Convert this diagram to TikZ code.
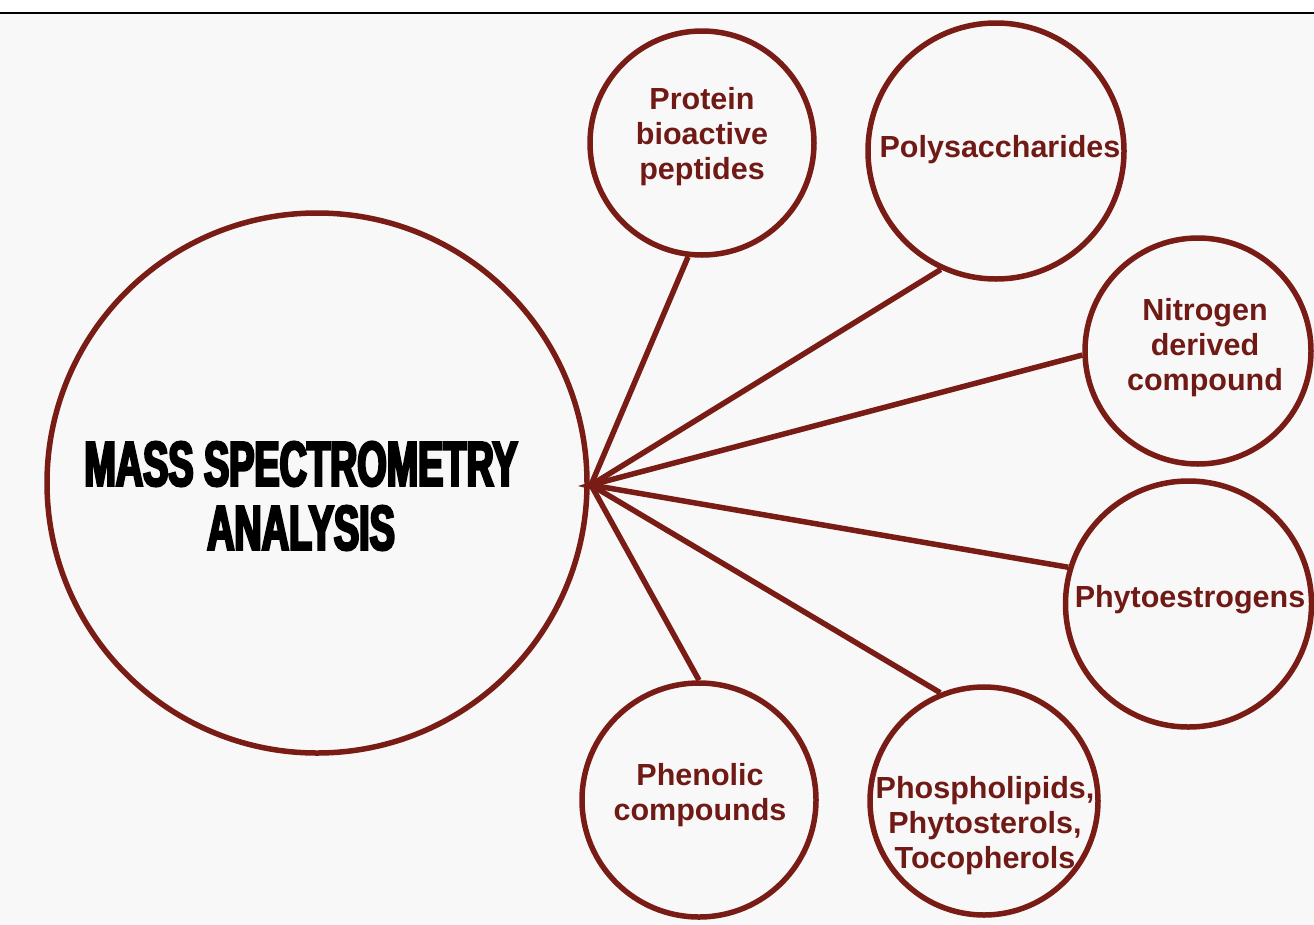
\documentclass[tikz,border=0pt]{standalone}
\usepackage{fontspec}
\setmainfont{Liberation Sans}
\newfontfamily\titlefont[FakeStretch=0.6,FakeBold=4]{Liberation Sans}
\definecolor{bgc}{RGB}{248,248,248}
\definecolor{wine}{RGB}{122,28,22}
\definecolor{txt}{RGB}{112,26,22}
\begin{document}
\begin{tikzpicture}[x=1pt,y=-1pt,
  bubble/.style={circle,draw=wine,line width=5.5pt,inner sep=0pt,fill=none},
  lab/.style={text=txt,font=\fontsize{30.5}{35}\selectfont\bfseries,align=center,inner sep=0pt},
  spoke/.style={draw=wine,line width=5.5pt}]
\useasboundingbox (0,0) rectangle (1314,924);
\fill[white] (0,0) rectangle (1314,13);
\fill[bgc] (0,14) rectangle (1314,925);
\draw[black,line width=1.6pt] (0,13) -- (1314,13);
% circles
\node[bubble,minimum size=540pt] (mass) at (317,483) {};
\node[bubble,minimum size=224pt] (prot) at (702,143) {};
\node[bubble,minimum size=256pt] (poly) at (996,151) {};
\node[bubble,minimum size=226pt] (nitro) at (1198,351) {};
\node[bubble,minimum size=246pt] (phyto) at (1188.5,604) {};
\node[bubble,minimum size=228pt] (phos) at (984,801) {};
\node[bubble,minimum size=234pt] (phen) at (699,800) {};
% hub
\coordinate (hub) at (591,485);
\coordinate (tip) at (578,486);
\coordinate (tipa) at (594,481);
\coordinate (tipb) at (594,490);
\fill[wine] (tip) -- (tipa) -- (tipb) -- cycle;
\draw[spoke] (hub) -- (prot.-97);
\draw[spoke] (hub) -- (poly.-115);
\draw[spoke] (hub) -- (nitro.182);
\draw[spoke] (hub) -- (phyto.163);
\draw[spoke] (hub) -- (phos.112);
\draw[spoke] (hub) -- (phen.90);
% labels
\node[text=black,font=\titlefont\bfseries\fontsize{63}{64}\selectfont,align=center,inner sep=0pt] (title) at (301,496) {MASS SPECTROMETRY\\ANALYSIS};
\node[lab] (protT) at (702,137) {Protein\\bioactive\\peptides};
\node[lab] (polyT) at (1000,150) {Polysaccharides};
\node[lab] (nitroT) at (1205,348) {Nitrogen\\derived\\compound};
\node[lab] (phytoT) at (1190,600) {Phytoestrogens};
\node[lab] (phosT) at (985,826) {Phospholipids,\\Phytosterols,\\Tocopherols};
\node[lab] (phenT) at (700,795) {Phenolic\\compounds};
\end{tikzpicture}
\end{document}
